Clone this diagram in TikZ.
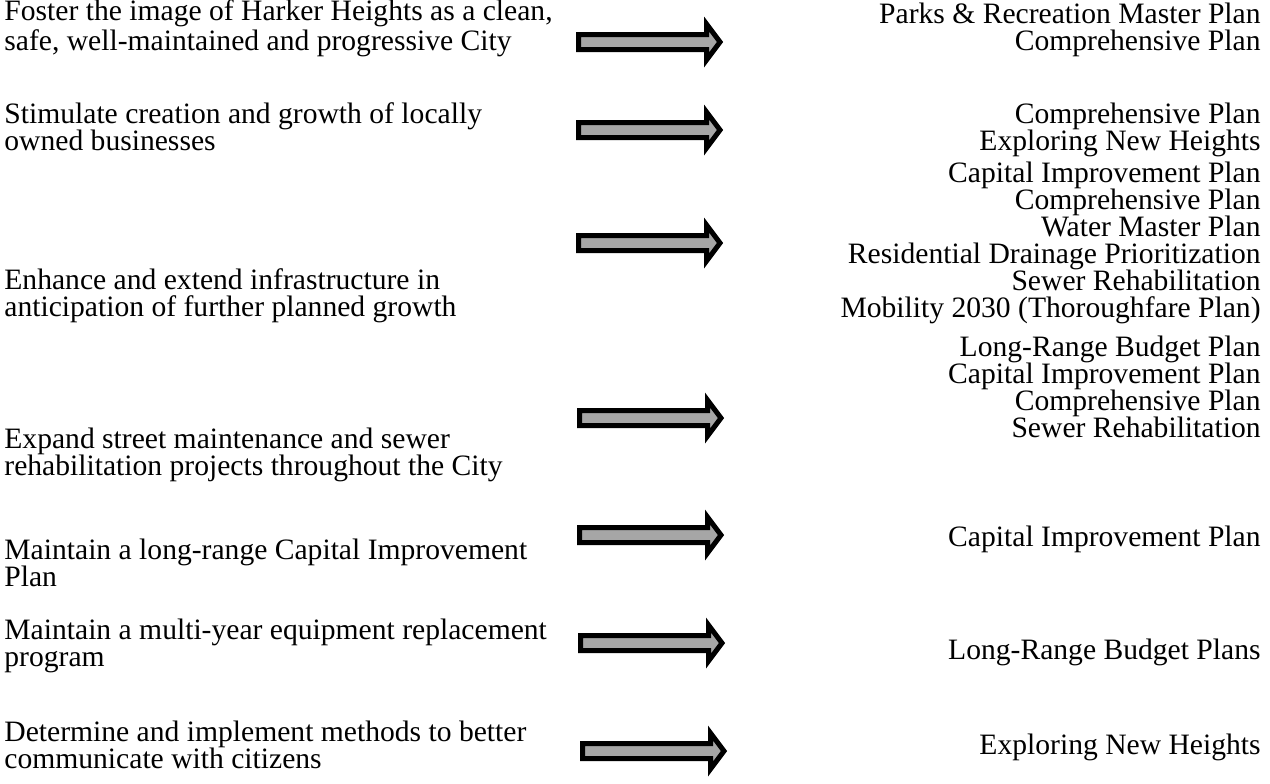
\documentclass[tikz,border=0pt]{standalone}
\usepackage{fontspec}
\setmainfont{Liberation Serif}
\begin{document}
\begin{tikzpicture}[x=0.5pt,y=-0.5pt,
  goal/.style={anchor=base west,inner sep=0pt,align=left,
    font=\fontsize{14.8}{13.5}\selectfont},
  plan/.style={anchor=base east,inner sep=0pt,align=right,
    font=\fontsize{14.8}{13.5}\selectfont},
  arrowbody/.style={draw=black,line width=2.5pt,fill=black!35,line join=miter,miter limit=10},
  goalarrow/.pic={
    \draw[arrowbody] (-71.5,-7.5) -- (56.5,-7.5) -- (56.5,-18) -- (70,0)
      -- (56.5,18) -- (56.5,7.5) -- (-71.5,7.5) -- cycle;
  }]
\useasboundingbox (0,0) rectangle (1270,783);

% goals (left column); each node sits on the baseline of its last line
\node[goal] (g1) at (4,50)  {Foster the image of Harker Heights as a clean,\\safe, well-maintained and progressive City};
\node[goal] (g2) at (4,150) {Stimulate creation and growth of locally\\owned businesses};
\node[goal] (g3) at (4,316) {Enhance and extend infrastructure in\\anticipation of further planned growth};
\node[goal] (g4) at (4,475) {Expand street maintenance and sewer\\rehabilitation projects throughout the City};
\node[goal] (g5) at (4,586) {Maintain a long-range Capital Improvement\\Plan};
\node[goal] (g6) at (4,666) {Maintain a multi-year equipment replacement\\program};
\node[goal] (g7) at (4,768) {Determine and implement methods to better\\communicate with citizens};

% supporting plans (right column)
\node[plan] (p1) at (1261,50)  {Parks \& Recreation Master Plan\\Comprehensive Plan};
\node[plan] (p2) at (1261,150) {Comprehensive Plan\\Exploring New Heights};
\node[plan] (p3) at (1261,317) {Capital Improvement Plan\\Comprehensive Plan\\Water Master Plan\\Residential Drainage Prioritization\\Sewer Rehabilitation\\Mobility 2030 (Thoroughfare Plan)};
\node[plan] (p4) at (1261,437) {Long-Range Budget Plan\\Capital Improvement Plan\\Comprehensive Plan\\Sewer Rehabilitation};
\node[plan] (p5) at (1261,546) {Capital Improvement Plan};
\node[plan] (p6) at (1261,659) {Long-Range Budget Plans};
\node[plan] (p7) at (1261,754) {Exploring New Heights};

% block arrows linking goals to plans
\pic (a1) at (650,42)  {goalarrow};
\pic (a2) at (650,130) {goalarrow};
\pic (a3) at (650,243) {goalarrow};
\pic (a4) at (651,418) {goalarrow};
\pic (a5) at (651,535) {goalarrow};
\pic (a6) at (652,643) {goalarrow};
\pic (a7) at (654,751) {goalarrow};
\end{tikzpicture}
\end{document}
